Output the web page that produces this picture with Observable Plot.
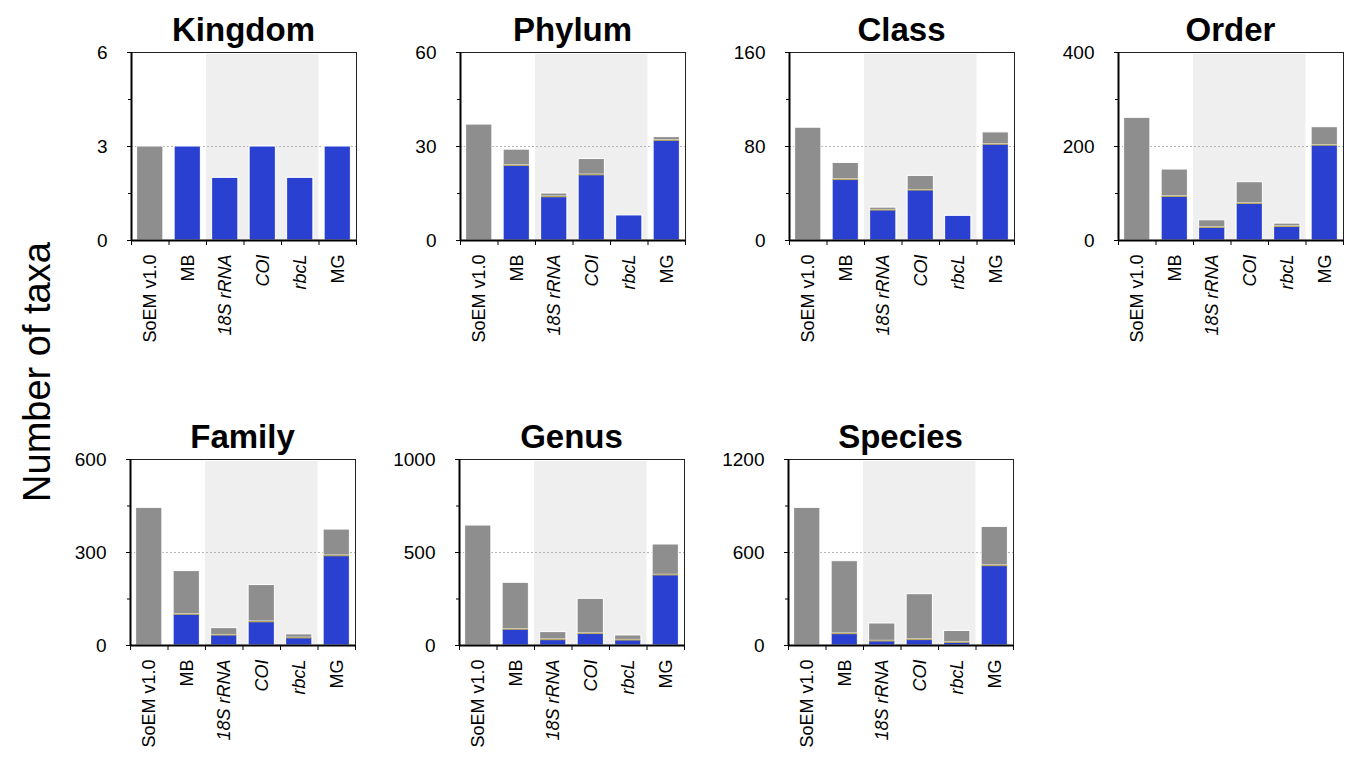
<!DOCTYPE html>
<html><head><meta charset="utf-8">
<script src="https://cdn.jsdelivr.net/npm/d3@7"></script>
<script src="https://cdn.jsdelivr.net/npm/@observablehq/plot@0.6"></script>
<style>
body{margin:0;background:#fff;overflow:hidden;font-family:"Liberation Sans",Arial,sans-serif}
#root{position:relative;width:1349px;height:758px;overflow:hidden}
.panel{position:absolute}
.panel svg{max-width:none !important}
.title{position:absolute;font-weight:bold;font-size:33px;text-align:center;line-height:1;color:#000}
.ytitle{position:absolute;font-size:38px;text-align:center;width:400px;line-height:1;transform:rotate(-90deg);color:#000}
</style></head><body><div id="root"></div><script>
// categories and labels
const categories = ["SoEM v1.0", "MB", "18S rRNA", "COI", "rbcL", "MG"];
const italicCategories = ["18S rRNA", "COI", "rbcL"];
const shadedCategories = ["18S rRNA", "COI", "rbcL"];
const ranks = ["Kingdom", "Phylum", "Class", "Order", "Family", "Genus", "Species"];
const yMaxima = [6, 60, 160, 400, 600, 1000, 1200];

// totals (top of bar) and blue (assigned) part per rank
const kingdomTotal = [3, 3, 2, 3, 2, 3];
const kingdomBlue  = [0, 3, 2, 3, 2, 3];
const phylumTotal  = [37, 29, 15, 26, 8, 33];
const phylumBlue   = [0, 24, 14, 21, 8, 32];
const classTotal   = [96, 66, 28, 55, 21, 92];
const classBlue    = [0, 52, 26, 43, 21, 82];
const orderTotal   = [261, 151, 43, 124, 36, 241];
const orderBlue    = [0, 94, 28, 79, 30, 203];
const familyTotal  = [444, 240, 56, 195, 36, 374];
const familyBlue   = [0, 101, 34, 77, 25, 290];
const genusTotal   = [645, 337, 72, 251, 54, 543];
const genusBlue    = [0, 88, 32, 65, 30, 380];
const speciesTotal = [888, 544, 142, 331, 94, 765];
const speciesBlue  = [0, 77, 30, 39, 21, 516];

const totalsByRank = [kingdomTotal, phylumTotal, classTotal, orderTotal, familyTotal, genusTotal, speciesTotal];
const bluesByRank  = [kingdomBlue, phylumBlue, classBlue, orderBlue, familyBlue, genusBlue, speciesBlue];

const root = document.getElementById("root");
const GRAY = "#8e8e8e", BLUE = "#2a40d0", SHADE = "#efefef", SEAM = "#b8a862";
const PW = 225, ML = 60, MR = 12, MT = 10, MB = 112;

ranks.forEach((rank, k) => {
  const row = k < 4 ? 0 : 1;
  const col = k < 4 ? k : k - 4;
  const left = (row ? 130 : 131) + col * 329;
  const top = row ? 459 : 52;
  const PH = row ? 186 : 188;
  const max = yMaxima[k];
  const rows = categories.map((c, i) => ({cat: c, i, total: totalsByRank[k][i], blue: bluesByRank[k][i]}));
  const shadeIdx = categories.map((c, i) => i).filter(i => shadedCategories.includes(categories[i]));
  const shade = [{x1: d3.min(shadeIdx), x2: d3.max(shadeIdx) + 1}];
  const bx1 = d => d.i + 0.15, bx2 = d => d.i + 0.85;

  const chart = Plot.plot({
    width: ML + PW + MR, height: MT + PH + MB,
    marginLeft: ML, marginRight: MR, marginTop: MT, marginBottom: MB,
    x: {type: "linear", domain: [0, categories.length], axis: null},
    y: {domain: [0, max], axis: null},
    style: {fontFamily: "Liberation Sans, Arial, sans-serif", fontSize: "19px", color: "#000", background: "transparent", overflow: "visible", maxWidth: "none"},
    marks: [
      Plot.rect(shade, {x1: "x1", x2: "x2", y1: 0, y2: max, fill: SHADE, insetTop: 2}),
      Plot.ruleY([max / 2], {stroke: "#b5b5b5", strokeDasharray: "2,2", strokeWidth: 1}),
      Plot.rectY(rows, {x1: bx1, x2: bx2, y1: 0, y2: "total", fill: GRAY, stroke: "white", strokeWidth: 1}),
      Plot.rectY(rows.filter(d => d.blue > 0), {x1: bx1, x2: bx2, y1: 0, y2: "blue", fill: BLUE, stroke: "white", strokeWidth: 1}),
      Plot.ruleY(rows.filter(d => d.blue > 0 && d.total > d.blue), {x1: d => d.i + 0.16, x2: d => d.i + 0.84, y: "blue", stroke: SEAM, strokeWidth: 1.3}),
      Plot.frame({stroke: "#222", strokeWidth: 1}),
      Plot.ruleX([0], {stroke: "#000", strokeWidth: 2}),
      Plot.ruleY([0], {stroke: "#000", strokeWidth: 2}),
      Plot.axisY({ticks: [0, max / 2, max], tickSize: 4, tickPadding: 20, fontSize: 19, tickFormat: d => String(d)}),
      Plot.axisY({ticks: [max / 4, 3 * max / 4], tickSize: 3, tickFormat: () => ""}),
      Plot.axisX({ticks: d3.range(categories.length + 1), tickSize: 5, tickFormat: () => ""}),
      Plot.text(rows.filter(d => !italicCategories.includes(d.cat)), {x: d => d.i + 0.5, y: 0, text: "cat", rotate: -90, textAnchor: "end", dy: 14, fontSize: 18}),
      Plot.text(rows.filter(d => italicCategories.includes(d.cat)), {x: d => d.i + 0.5, y: 0, text: "cat", rotate: -90, textAnchor: "end", dy: 14, fontSize: 18, fontStyle: "italic"})
    ]
  });
  const wrap = document.createElement("div");
  wrap.className = "panel";
  wrap.style.left = (left - ML) + "px";
  wrap.style.top = (top - MT) + "px";
  wrap.style.width = (ML + PW + MR) + "px";
  wrap.appendChild(chart);
  root.appendChild(wrap);

  const t = document.createElement("div");
  t.className = "title";
  t.textContent = rank;
  t.style.left = left + "px";
  t.style.width = PW + "px";
  t.style.top = (top - 39) + "px";
  root.appendChild(t);
});

const yt = document.createElement("div");
yt.className = "ytitle";
yt.textContent = "Number of taxa";
yt.style.left = (37 - 200) + "px";
yt.style.top = (372 - 19) + "px";
root.appendChild(yt);
</script></body></html>
